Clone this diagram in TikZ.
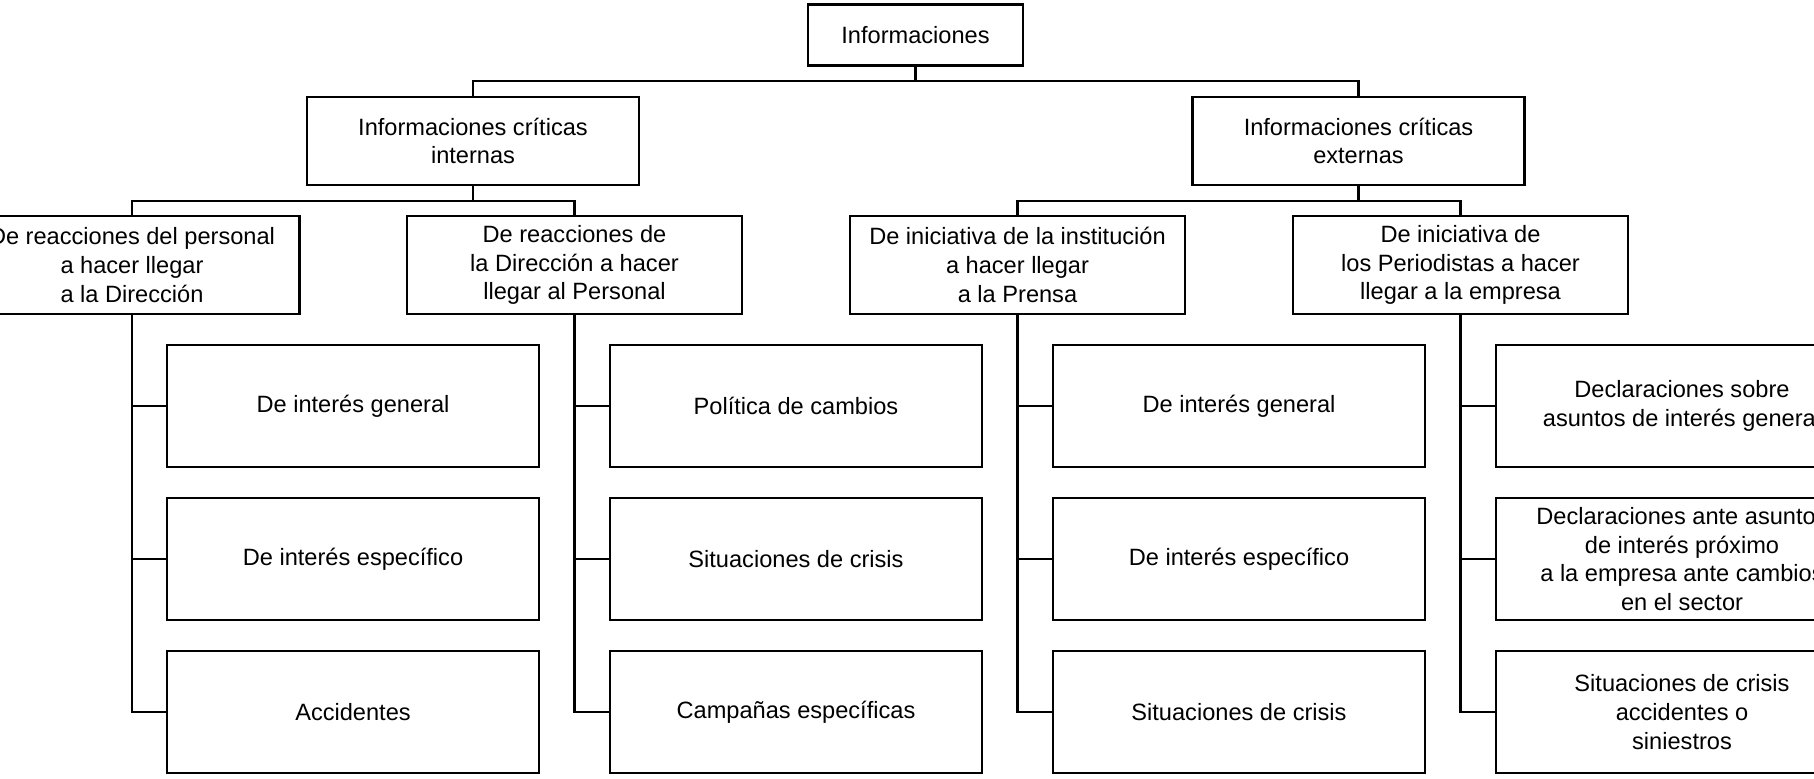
\documentclass[tikz,border=0pt]{standalone}
\usepackage{fontspec}
\setmainfont{Liberation Sans}
\begin{document}
\begin{tikzpicture}[x=0.5pt,y=-0.5pt,
  bx/.style={draw=black, line width=1.3pt, fill=white, inner sep=0pt, align=center,
    font=\fontsize{11.8pt}{14.4pt}\selectfont},
  topbx/.style={bx, minimum width=107.5pt, minimum height=30.5pt},
  lvtwo/.style={bx, minimum width=166pt, minimum height=44pt},
  lvthree/.style={bx, minimum width=167.5pt, minimum height=49pt},
  leaf/.style={bx, minimum width=186pt, minimum height=61pt},
  conn/.style={draw=black, line width=1.3pt}]
\useasboundingbox (0,0) rectangle (1814,778);
\clip (0,0) rectangle (1814,778);
\fill[white] (0,0) rectangle (1814,778);

\node[topbx] (top) at (915.5,35) {Informaciones};
\node[lvtwo] (int) at (473,141) {Informaciones críticas\\internas};
\node[lvtwo] (ext) at (1358.5,141) {Informaciones críticas\\externas};

\node[lvthree] (p1) at (132,265) {De reacciones del personal\\a hacer llegar\\a la Dirección};
\node[lvthree] (p2) at (574.5,265) {De reacciones de\\la Dirección a hacer\\llegar al Personal};
\node[lvthree] (p3) at (1017.5,265) {De iniciativa de la institución\\a hacer llegar\\a la Prensa};
\node[lvthree] (p4) at (1460.5,265) {De iniciativa de\\los Periodistas a hacer\\llegar a la empresa};

\node[leaf] (a1) at (353,406) {De interés general};
\node[leaf] (a2) at (353,559) {De interés específico};
\node[leaf] (a3) at (353,712) {Accidentes};

\node[leaf] (b1) at (796,406) {Política de cambios};
\node[leaf] (b2) at (796,559) {Situaciones de crisis};
\node[leaf] (b3) at (796,712) {Campañas específicas};

\node[leaf] (c1) at (1239,406) {De interés general};
\node[leaf] (c2) at (1239,559) {De interés específico};
\node[leaf] (c3) at (1239,712) {Situaciones de crisis};

\node[leaf] (d1) at (1682,406) {Declaraciones sobre\\asuntos de interés general};
\node[leaf] (d2) at (1682,559) {Declaraciones ante asuntos\\de interés próximo\\a la empresa ante cambios\\en el sector};
\node[leaf] (d3) at (1682,712) {Situaciones de crisis\\accidentes o\\siniestros};

\coordinate (busa) at (0,81);
\coordinate (busb) at (0,201);

\draw[conn] (top.south) -- (top.south |- busa);
\draw[conn] (int.north) |- (busa -| ext.north) -- (ext.north);

\draw[conn] (int.south) -- (int.south |- busb);
\draw[conn] (p1.north) |- (busb -| p2.north) -- (p2.north);
\draw[conn] (ext.south) -- (ext.south |- busb);
\draw[conn] (p3.north) |- (busb -| p4.north) -- (p4.north);

\foreach \p/\l in {p1/a, p2/b, p3/c, p4/d}{
  \draw[conn] (\p.south) |- (\l3.west);
  \draw[conn] (\p.south |- \l1.west) -- (\l1.west);
  \draw[conn] (\p.south |- \l2.west) -- (\l2.west);
}
\end{tikzpicture}
\end{document}
